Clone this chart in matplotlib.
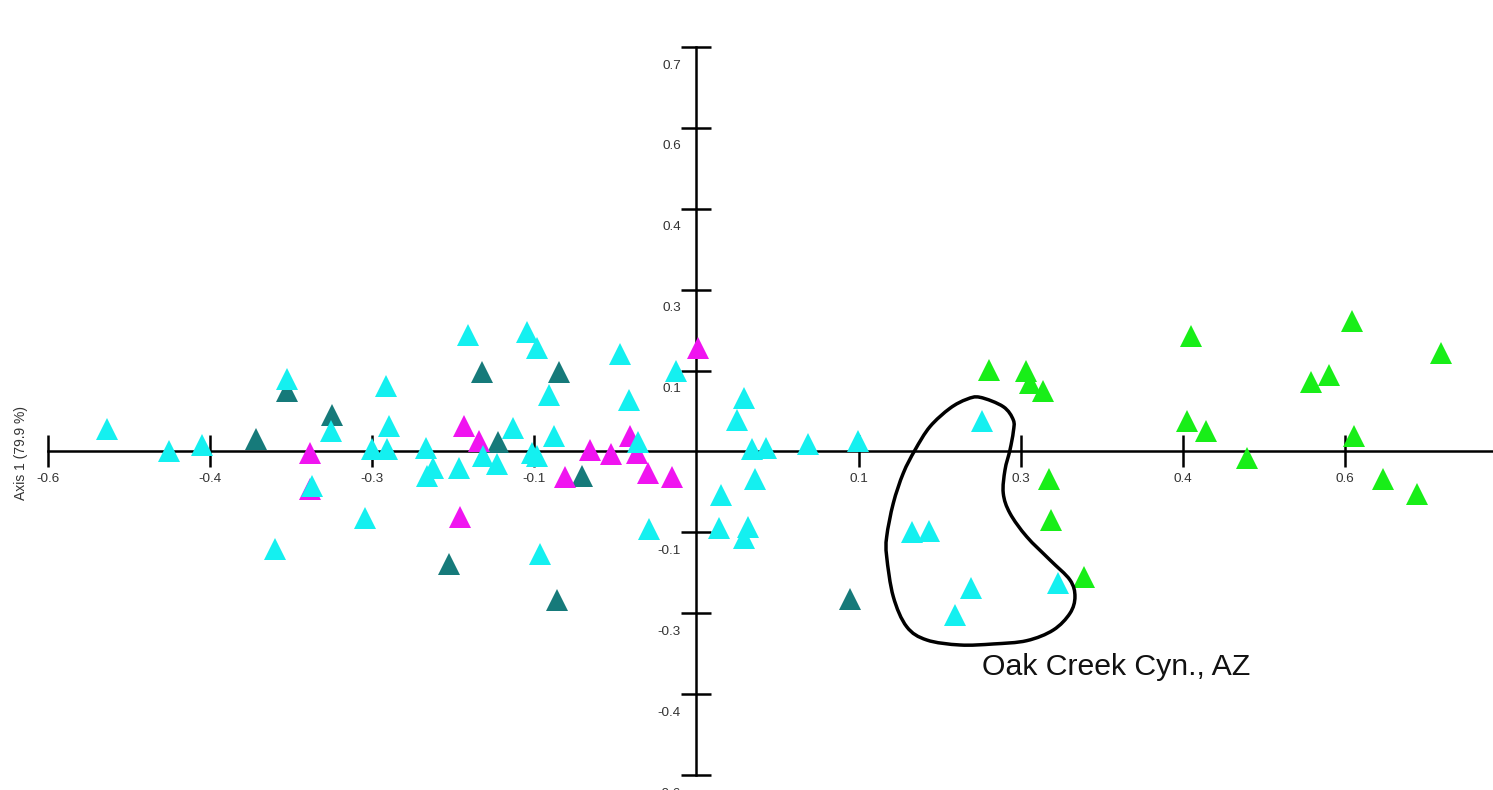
import numpy as np
import matplotlib
matplotlib.use("Agg")
import matplotlib.pyplot as plt
from matplotlib.path import Path
from matplotlib.patches import PathPatch
from matplotlib.transforms import ScaledTranslation

plt.rcParams['font.family'] = ['Liberation Sans', 'DejaVu Sans']

# ---------------- data ----------------
cyan_x = [-0.5449, -0.4876, -0.4573, -0.3787, -0.3383, -0.3559, -0.3069, -0.3901,
          -0.3004, -0.2872, -0.2841, -0.2860, -0.2116, -0.1570, -0.1478, -0.0707,
          -0.0190, -0.1361, -0.0624, -0.1694, -0.1318, -0.0538, -0.2502, -0.1977,
          -0.1848, -0.1524, -0.1472, -0.2434, -0.2490, -0.2194, -0.0437, -0.1447,
          0.0439, 0.0372, 0.0510, 0.0643, 0.1034, 0.1496, 0.0541, 0.0227,
          0.0208, 0.0479, 0.0442, 0.1990, 0.2153, 0.2638, 0.2536, 0.2387, 0.3346]
cyan_y = [0.0414, 0.0010, 0.0124, 0.1341, 0.0384, -0.0636, -0.1229, -0.1812,
          0.0043, 0.1209, 0.0477, 0.0043, 0.2160, 0.2207, 0.1910, 0.1812,
          0.1496, 0.1044, 0.0955, 0.0430, 0.0291, 0.0180, 0.0059, -0.0083,
          -0.0235, -0.0019, -0.0080, -0.0302, -0.0451, -0.0312, -0.1446, -0.1897,
          0.0996, 0.0580, 0.0050, 0.0056, 0.0148, 0.0198, -0.0519, -0.0807,
          -0.1415, -0.1409, -0.1595, -0.1489, -0.1478, 0.0569, -0.2524, -0.3028, -0.2438]

teal_x = [-0.4077, -0.3787, -0.3368, -0.1981, -0.1274, -0.1833, -0.1056, -0.2289, -0.1287, 0.1420]
teal_y = [0.0223, 0.1126, 0.0677, 0.1478, 0.1483, 0.0167, -0.0454, -0.2095, -0.2763, -0.2731]

magenta_x = [-0.3577, -0.3574, 0.0017, -0.2150, -0.2007, -0.0615, -0.0985, -0.0791,
             -0.0547, -0.1213, -0.0450, -0.0224, -0.2187]
magenta_y = [-0.0024, -0.0699, 0.1928, 0.0477, 0.0195, 0.0291, 0.0019, -0.0050,
             -0.0028, -0.0464, -0.0401, -0.0469, -0.1209]

green_x = [0.2708, 0.3047, 0.3084, 0.3207, 0.3257, 0.3278, 0.3584, 0.4570, 0.6065,
           0.6882, 0.5680, 0.5849, 0.4533, 0.4712, 0.6081, 0.5088, 0.6352, 0.6666]
green_y = [0.1520, 0.1496, 0.1265, 0.1118, -0.0519, -0.1279, -0.2331, 0.2142, 0.2424,
           0.1830, 0.1285, 0.1413, 0.0571, 0.0386, 0.0291, -0.0126, -0.0514, -0.0792]

x_ticks = [-0.6, -0.45, -0.3, -0.15, 0.15, 0.3, 0.45, 0.6]
x_tick_labels = ["-0.6", "-0.4", "-0.3", "-0.1", "0.1", "0.3", "0.4", "0.6"]
y_ticks = [-0.6, -0.45, -0.3, -0.15, 0.15, 0.3, 0.45, 0.6, 0.75]
y_tick_labels = ["-0.6", "-0.4", "-0.3", "-0.1", "0.1", "0.3", "0.4", "0.6", "0.7"]

# hand-drawn outline around the Oak Creek group
loop_x = [0.2622, 0.2837, 0.2930, 0.2930, 0.2899, 0.2853, 0.2837, 0.2899, 0.3054,
          0.3269, 0.3454, 0.3500, 0.3454, 0.3300, 0.3054, 0.2745, 0.2437, 0.2129,
          0.1944, 0.1820, 0.1759, 0.1759, 0.1820, 0.1912, 0.2021, 0.2159, 0.2344, 0.2499]
loop_y = [0.1005, 0.0831, 0.0584, 0.0367, 0.0028, -0.0343, -0.0775, -0.1146, -0.1580,
          -0.2012, -0.2383, -0.2692, -0.3000, -0.3310, -0.3508, -0.3569, -0.3588, -0.3495,
          -0.3249, -0.2692, -0.1951, -0.1580, -0.0960, -0.0404, 0.0028, 0.0460, 0.0801, 0.0968]

annot_text = "Oak Creek Cyn., AZ"
axis_label = "Axis 1 (79.9 %)"

# ---------------- figure ----------------
W, H = 1493, 790
fig = plt.figure(figsize=(W / 100, H / 100), dpi=100)
ax = fig.add_axes([0, 0, 1, 1])
ax.set_xlim(-0.6441, 0.7366)
ax.set_ylim(-0.6277, 0.8372)

for s in ("top", "right"):
    ax.spines[s].set_visible(False)
ax.spines["left"].set_position(("data", 0))
ax.spines["bottom"].set_position(("data", 0))
ax.spines["left"].set_bounds(-0.6, 0.75)
ax.spines["bottom"].set_bounds(-0.6, 0.7366)
for s in ("left", "bottom"):
    ax.spines[s].set_linewidth(1.8)
    ax.spines[s].set_color("black")

ax.set_xticks(x_ticks, x_tick_labels)
ax.set_yticks(y_ticks, y_tick_labels)
ax.tick_params(axis="x", direction="inout", length=23, width=1.8, pad=4,
               labelsize=9.7, labelcolor="#333333", color="black")
ax.tick_params(axis="y", direction="inout", length=21, width=1.8, pad=0.8,
               labelsize=9.7, labelcolor="#333333", color="black")
off = ScaledTranslation(0, -17 / 100, fig.dpi_scale_trans)
for lab in ax.get_yticklabels():
    lab.set_transform(lab.get_transform() + off)

ms = 15.6
ax.plot(teal_x, teal_y, "^", ms=ms, mew=0, color="#167a7a", zorder=3, clip_on=False)
ax.plot(magenta_x, magenta_y, "^", ms=ms, mew=0, color="#f014f0", zorder=4, clip_on=False)
ax.plot(cyan_x, cyan_y, "^", ms=ms, mew=0, color="#14f0f0", zorder=5, clip_on=False)
ax.plot(green_x, green_y, "^", ms=ms, mew=0, color="#18ee18", zorder=6, clip_on=False)

# smooth closed outline (Catmull-Rom -> cubic Bezier)
P = np.column_stack([loop_x, loop_y])
n = len(P)
verts = [P[0]]
codes = [Path.MOVETO]
for i in range(n):
    p0, p1, p2, p3 = P[i - 1], P[i], P[(i + 1) % n], P[(i + 2) % n]
    c1 = p1 + (p2 - p0) / 6.0
    c2 = p2 - (p3 - p1) / 6.0
    verts += [c1, c2, p2]
    codes += [Path.CURVE4] * 3
ax.add_patch(PathPatch(Path(verts, codes), fill=False, lw=2.5, ec="black", zorder=7,
                       joinstyle="round"))

ax.text(0.2638, -0.4144, annot_text, fontsize=21.8, color="#111111",
        ha="left", va="baseline", zorder=8)

fig.text(21 / W, 1 - 453 / H, axis_label, rotation=90, fontsize=10,
         color="#333333", ha="center", va="center")

fig.savefig("out.png", dpi=100)
